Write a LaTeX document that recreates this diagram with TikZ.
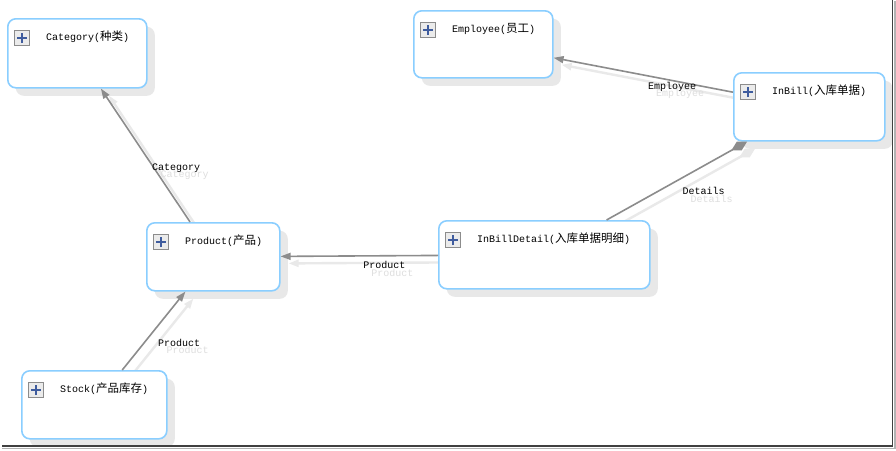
\documentclass[tikz,border=0pt]{standalone}
\usepackage{fontspec}
\setmonofont{Liberation Mono}
\newfontfamily\cjk{Noto Sans CJK SC}
\usepackage{tikz}
\usetikzlibrary{arrows.meta,shadows,backgrounds}
\definecolor{edge}{HTML}{8C8C8C}
\definecolor{rim}{HTML}{8ACEFF}
\definecolor{shade}{HTML}{E8E8E8}
\definecolor{ghostc}{HTML}{E9E9E9}
\definecolor{plusblue}{HTML}{3F5C9E}
\newcommand{\enttitle}[2]{#1({\cjk\fontsize{11.5}{14}\selectfont #2})}
\tikzset{
  >={Triangle[length=10pt,width=7pt]},
  entity/.style={draw=rim,line width=1.6pt,rounded corners=8pt,fill=white,anchor=north west,inner sep=0pt,
    general shadow={fill=shade,shadow xshift=8pt,shadow yshift=-8pt}},
  plusbox/.style={draw=black!45,fill=black!8,line width=1.2pt,minimum size=15pt,inner sep=0pt,
    path picture={\draw[plusblue,line width=2pt]
      ([xshift=-5pt]path picture bounding box.center) -- ([xshift=5pt]path picture bounding box.center)
      ([yshift=-5pt]path picture bounding box.center) -- ([yshift=5pt]path picture bounding box.center);}},
  title/.style={font=\ttfamily\fontsize{10}{12}\selectfont,inner sep=0pt,anchor=west},
  lab/.style={font=\ttfamily\fontsize{10}{12}\selectfont,inner sep=1pt},
  rel/.style={draw=edge,line width=1.6pt},
  ghost/.style={draw=ghostc,line width=2.4pt,text=black!13},
}

\begin{document}
\begin{tikzpicture}[x=1pt,y=-1pt]
  \useasboundingbox (0,0) rectangle (896,450);
  % entities
  \foreach \n/\x/\y/\w/\h/\en/\cn in {
      cat/7/18/139/69/Category/种类,
      emp/413/10/139/67/Employee/员工,
      inb/733/72/151/68/InBill/入库单据,
      ibd/438/220/211/68/InBillDetail/入库单据明细,
      prod/146/222/133/68/Product/产品,
      stock/21/370/145/68/Stock/产品库存}{
    \node[entity,minimum width=\w,minimum height=\h] (\n) at (\x,\y) {};
    \node[plusbox] (\n-i) at ([xshift=15pt,yshift=-20pt]\n.north west) {};
    \node[title] (\n-t) at ([xshift=39pt,yshift=-19pt]\n.north west) {\enttitle{\en}{\cn}};
  }
  % white page and faint copies of the associations
  \begin{scope}[on background layer]
  \fill[white] (0,0) rectangle (896,450);
  \begin{scope}[transform canvas={shift={(8pt,-7pt)}}]
    \draw[ghost,->] (prod) -- node[lab,pos=0.4,anchor=west,xshift=-4pt] {Category} (cat);
    \draw[ghost,->] (inb) -- node[lab,pos=0.34,below] {Employee} (emp);
    \draw[ghost,-{Diamond[length=18pt,width=10pt]}] (ibd) -- node[lab,pos=0.69,below=20pt] {Details} (inb);
    \draw[ghost,->] (ibd) -- node[lab,pos=0.34,below=4pt] {Product} (prod);
    \draw[ghost,->] (stock) -- node[lab,pos=0.35,right=12pt] {Product} (prod);
  \end{scope}
  \end{scope}
  % associations
  \draw[rel,->] (prod) -- node[lab,pos=0.4,anchor=west,xshift=-4pt] (l-cat) {Category} (cat);
  \draw[rel,->] (inb) -- node[lab,pos=0.34,below] (l-emp) {Employee} (emp);
  \draw[rel,-{Diamond[length=18pt,width=10pt]}] (ibd) -- node[lab,pos=0.69,below=20pt] (l-det) {Details} (inb);
  \draw[rel,->] (ibd) -- node[lab,pos=0.34,below=4pt] (l-prod) {Product} (prod);
  \draw[rel,->] (stock) -- node[lab,pos=0.35,right=12pt] (l-stock) {Product} (prod);
  % window edge
  \draw[black!30,line width=1.5pt] (2,448.5) -- (895,448.5) -- (895,1);
  \draw[black!75,line width=1.8pt] (2,446) -- (892.5,446) -- (892.5,0);
\end{tikzpicture}
\end{document}
